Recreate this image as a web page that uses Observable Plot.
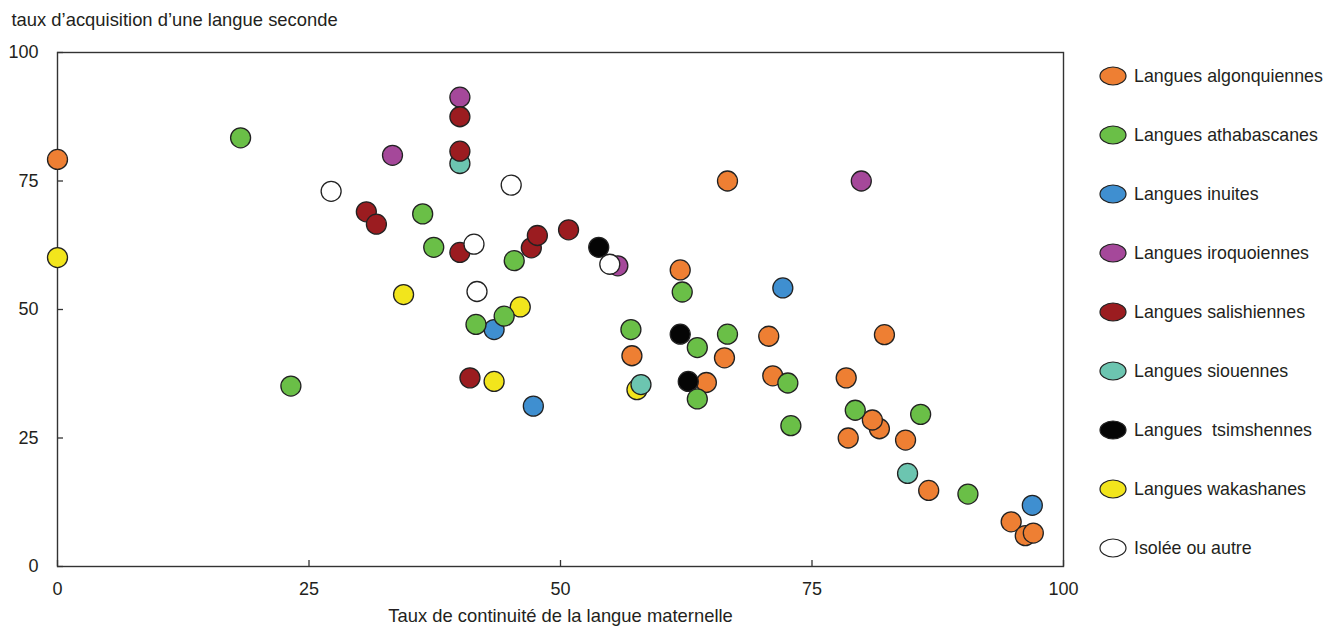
<!DOCTYPE html>
<html>
<head>
<meta charset="utf-8">
<script src="https://cdn.jsdelivr.net/npm/d3@7"></script>
<script src="https://cdn.jsdelivr.net/npm/@observablehq/plot@0.6"></script>
<style>
  html, body { margin: 0; padding: 0; background: #fff; }
  #wrap { position: relative; width: 1326px; height: 626px; font-family: "Liberation Sans", Arial, sans-serif; color: #231F20; }
  #chart { position: absolute; left: 0; top: 0; }
  .leg { position: absolute; left: 1098px; height: 26px; display: flex; align-items: center; font-size: 17.8px; white-space: nowrap; }
  .leg svg { margin-right: 6px; }
</style>
</head>
<body>
<div id="wrap"><div id="chart"></div><div id="legend"></div></div>
<script>
// ---- data (x = taux de continuité, y = taux d'acquisition) ----
const categories = [
  "Langues algonquiennes", "Langues athabascanes", "Langues inuites",
  "Langues iroquoiennes", "Langues salishiennes", "Langues siouennes",
  "Langues  tsimshennes", "Langues wakashanes", "Isolée ou autre"
];
const colors = ["#EE7F33", "#6ABF47", "#3F8FD0", "#A5489A", "#9B1C20", "#6CC5B0", "#050505", "#F2E51C", "#FFFFFF"];

const algonquiennes = [[0,79.2],[66.6,75.0],[61.9,57.7],[57.1,41.0],[66.3,40.6],[70.7,44.8],[82.2,45.1],[64.5,35.8],[71.1,37.1],[78.4,36.7],[81.7,26.8],[81.0,28.5],[78.6,25.0],[84.3,24.6],[86.6,14.8],[94.8,8.7],[96.2,6.0],[97.0,6.5]];
const athabascanes = [[18.2,83.4],[36.3,68.6],[37.4,62.1],[45.4,59.5],[41.6,47.1],[44.4,48.7],[23.2,35.1],[62.1,53.4],[57.0,46.1],[63.6,42.6],[66.6,45.2],[63.6,32.6],[72.6,35.7],[72.9,27.4],[79.3,30.4],[85.8,29.6],[90.5,14.1]];
const inuites = [[43.4,46.1],[47.3,31.2],[72.1,54.2],[96.9,11.9]];
const iroquoiennes = [[33.3,80.0],[40.0,91.3],[55.7,58.5],[79.9,75.0]];
const salishiennes = [[30.7,69.0],[31.7,66.6],[40.0,87.5],[40.0,80.8],[40.0,61.1],[47.1,62.0],[47.7,64.4],[41.0,36.7],[50.8,65.5]];
const siouennes = [[40.0,78.4],[58.0,35.4],[84.5,18.1]];
const tsimshennes = [[53.8,62.1],[61.9,45.2],[62.7,36.0]];
const wakashanes = [[0,60.1],[34.4,52.9],[46.0,50.5],[43.4,36.0],[57.6,34.4]];
const isolees = [[27.2,73.0],[45.1,74.2],[41.4,62.7],[41.7,53.5],[54.9,58.8]];

const xTicks = [0, 25, 50, 75, 100];
const yTicks = [0, 25, 50, 75, 100];
const titleY = "taux d\u2019acquisition d\u2019une langue seconde";
const titleX = "Taux de continuité de la langue maternelle";

// draw order (later on top)
const drawOrder = [
  [algonquiennes, 0], [wakashanes, 7], [siouennes, 5], [inuites, 2],
  [tsimshennes, 6], [athabascanes, 1], [iroquoiennes, 3], [salishiennes, 4], [isolees, 8]
];
const rows = drawOrder.flatMap(([pts, i]) => pts.map(([x, y]) => ({x, y, group: categories[i]})));

const chart = Plot.plot({
  width: 1326,
  height: 626,
  marginLeft: 57,
  marginRight: 263,
  marginTop: 52,
  marginBottom: 60,
  style: {fontFamily: "Liberation Sans, Arial, sans-serif", fontSize: "18px", color: "#231F20", background: "white", overflow: "visible"},
  x: {domain: [0, 100]},
  y: {domain: [0, 100]},
  color: {domain: categories, range: colors},
  marks: [
    Plot.frame({stroke: "#333", strokeWidth: 1.4}),
    Plot.axisX(xTicks, {tickSize: -6, tickFormat: () => "", label: null, stroke: "#333", strokeWidth: 1.3}),
    Plot.axisY(yTicks, {tickSize: -6, tickFormat: () => "", label: null, stroke: "#333", strokeWidth: 1.3}),
    Plot.axisX(xTicks, {tickSize: 0, tickPadding: 16, label: null, fill: "#231F20"}),
    Plot.axisY(yTicks, {tickSize: 0, tickPadding: 19, label: null, fill: "#231F20"}),
    Plot.dot(rows, {x: "x", y: "y", r: 10, fill: "group", stroke: "#222", strokeWidth: 1.3}),
    Plot.text([titleY], {text: d => d, frameAnchor: "top-left", dx: -46, dy: -40, lineAnchor: "top", textAnchor: "start", fill: "#231F20", fontSize: 18.4}),
    Plot.text([titleX], {text: d => d, frameAnchor: "bottom", dy: 42, lineAnchor: "top", fill: "#231F20", fontSize: 18.4})
  ]
});
document.getElementById("chart").appendChild(chart);

// legend
const legend = document.getElementById("legend");
const legendY = [76, 135, 194, 253, 312, 371, 430, 489, 548];
categories.forEach((c, i) => {
  const row = document.createElement("div");
  row.className = "leg";
  row.style.top = (legendY[i] - 13) + "px";
  row.innerHTML = `<svg width="30" height="22"><ellipse cx="15" cy="11" rx="13" ry="9" fill="${colors[i]}" stroke="#222" stroke-width="1.2"/></svg><span>${c.replace(/  /g, "&nbsp; ")}</span>`;
  legend.appendChild(row);
});
</script>
</body>
</html>
